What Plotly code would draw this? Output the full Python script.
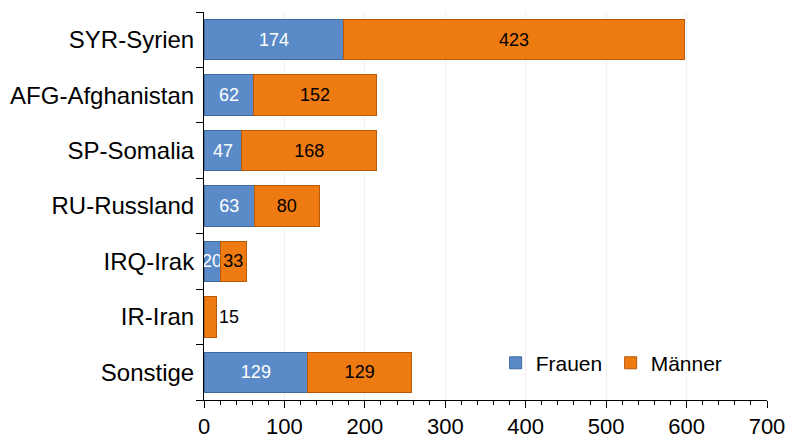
import plotly.graph_objects as go

categories = ["SYR-Syrien", "AFG-Afghanistan", "SP-Somalia", "RU-Russland", "IRQ-Irak", "IR-Iran", "Sonstige"]
frauen = [174, 62, 47, 63, 20, 0, 129]
maenner = [423, 152, 168, 80, 33, 15, 129]
x_ticks = [0, 100, 200, 300, 400, 500, 600, 700]

font_family = "Liberation Sans, Arial, sans-serif"

frauen_text = [str(v) if v > 0 else "" for v in frauen]
maenner_pos = ["outside" if v < 20 else "inside" for v in maenner]

fig = go.Figure()
fig.add_trace(go.Bar(
    y=categories, x=frauen, orientation="h", name="Frauen",
    marker=dict(color="#5A8BC8", line=dict(color="#3E6AA0", width=1)),
    text=frauen_text, textposition="inside", insidetextanchor="middle",
    textangle=0, constraintext="none",
    textfont=dict(color="white", size=18, family=font_family),
    cliponaxis=False,
))
fig.add_trace(go.Bar(
    y=categories, x=maenner, orientation="h", name="Männer",
    marker=dict(color="#EE7A12", line=dict(color="#B85A08", width=1)),
    text=[str(v) for v in maenner], textposition=maenner_pos, insidetextanchor="middle",
    textangle=0, constraintext="none",
    textfont=dict(color="black", size=18, family=font_family),
    outsidetextfont=dict(color="black", size=18, family=font_family),
    cliponaxis=False,
))

fig.update_layout(
    barmode="stack",
    bargap=0.27,
    width=796, height=439,
    margin=dict(l=204, r=29, t=12, b=39),
    paper_bgcolor="white", plot_bgcolor="white",
    font=dict(family=font_family, size=22, color="black"),
    uniformtext=dict(minsize=10, mode="show"),
    legend=dict(
        orientation="h", x=0.518, y=0.095, xanchor="left", yanchor="middle",
        font=dict(size=21), bgcolor="rgba(0,0,0,0)",
        traceorder="normal", itemwidth=30, entrywidth=70,
    ),
    xaxis=dict(
        range=[0, 700], tickvals=x_ticks, ticktext=[str(v) for v in x_ticks],
        showline=True, linecolor="black", linewidth=1,
        ticks="outside", ticklen=7, tickcolor="black",
        minor=dict(dtick=20, ticks="outside", ticklen=4, tickcolor="black", showgrid=False),
        showgrid=True, gridcolor="#F0F0F0", zeroline=False,
        tickfont=dict(size=22), automargin=False,
    ),
    yaxis=dict(
        categoryorder="array", categoryarray=categories[::-1],
        showline=True, linecolor="black", linewidth=1,
        ticks="outside", ticklen=7, tickcolor="black", tickson="boundaries",
        showgrid=False, tickfont=dict(size=24), automargin=False,
        ticklabelstandoff=4,
    ),
)

fig.write_html(
    "out.html",
    config={"displayModeBar": False},
    post_script="document.body.style.margin='0';document.body.style.padding='0';",
)
